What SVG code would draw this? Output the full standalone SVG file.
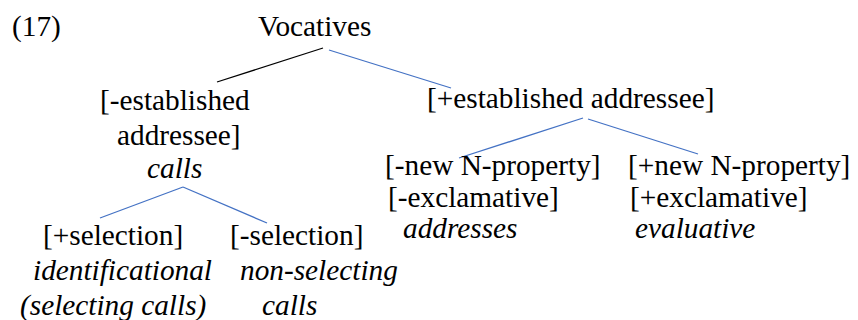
<svg xmlns="http://www.w3.org/2000/svg" width="858" height="320" viewBox="0 0 858 320">
  <rect x="0" y="0" width="858" height="320" fill="#fff"/>

  <g id="connectors" stroke="#4472C4" stroke-width="1.3" fill="none">
    <line stroke="#000" x1="323" y1="48" x2="217" y2="82"/>
    <line x1="329" y1="50" x2="451" y2="88"/>
    <line x1="183" y1="187" x2="100" y2="218"/>
    <line x1="183" y1="187" x2="267" y2="223"/>
    <line x1="583" y1="118" x2="459" y2="158"/>
    <line x1="588" y1="119" x2="698" y2="154"/>
  </g>

  <text font-family="Liberation Serif" font-size="29.3" x="12" y="36">(17)</text>
  <g id="root"><text font-family="Liberation Serif" font-size="29.3" x="258" y="36">Vocatives</text></g>
  <g id="minus-established">
    <text font-family="Liberation Serif" font-size="29.3" x="100" y="110">[-established</text>
    <text font-family="Liberation Serif" font-size="29.3" x="117" y="145">addressee]</text>
    <text font-family="Liberation Serif" font-size="29.3" font-style="italic" x="147" y="178">calls</text>
  </g>
  <g id="plus-established"><text font-family="Liberation Serif" font-size="29.3" x="427" y="108">[+established addressee]</text></g>
  <g id="plus-selection">
    <text font-family="Liberation Serif" font-size="29.3" x="43" y="245">[+selection]</text>
    <text font-family="Liberation Serif" font-size="29.3" font-style="italic" x="33" y="280">identificational</text>
    <text font-family="Liberation Serif" font-size="29.3" font-style="italic" x="20" y="315">(selecting calls)</text>
  </g>
  <g id="minus-selection">
    <text font-family="Liberation Serif" font-size="29.3" x="230" y="245">[-selection]</text>
    <text font-family="Liberation Serif" font-size="29.3" font-style="italic" x="240" y="280">non-selecting</text>
    <text font-family="Liberation Serif" font-size="29.3" font-style="italic" x="262" y="315">calls</text>
  </g>
  <g id="minus-new">
    <text font-family="Liberation Serif" font-size="29.3" x="385" y="175">[-new N-property]</text>
    <text font-family="Liberation Serif" font-size="29.3" x="388" y="207">[-exclamative]</text>
    <text font-family="Liberation Serif" font-size="29.3" font-style="italic" x="403" y="238">addresses</text>
  </g>
  <g id="plus-new">
    <text font-family="Liberation Serif" font-size="29.3" x="628" y="175">[+new N-property]</text>
    <text font-family="Liberation Serif" font-size="29.3" x="630" y="207">[+exclamative]</text>
    <text font-family="Liberation Serif" font-size="29.3" font-style="italic" x="635" y="238">evaluative</text>
  </g>
</svg>
